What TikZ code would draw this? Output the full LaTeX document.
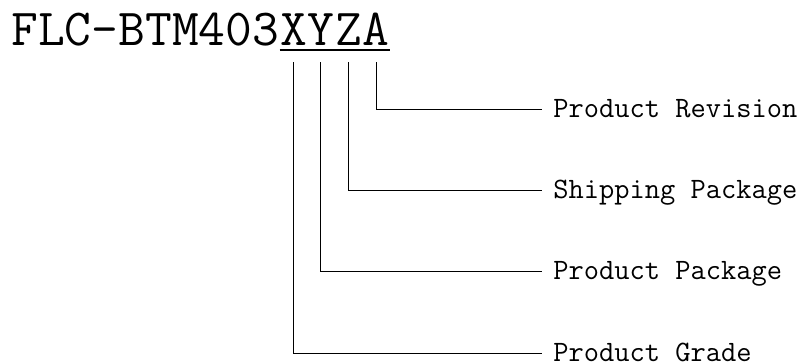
\documentclass[tikz,border=0pt]{standalone}
\usetikzlibrary{positioning}

\begin{document}
\begin{tikzpicture}[
        x=0.5pt, y=-0.5pt,
        code/.style={font=\ttfamily\fontsize{26}{31}\selectfont, inner sep=0pt, anchor=base west},
        field/.style={font=\ttfamily\fontsize{14.8}{17}\selectfont, inner sep=0pt, anchor=west, text height=8pt, text depth=0pt},
        lead/.style={line width=0.5pt}
    ]
        \useasboundingbox (0,0) rectangle (803,364);

        % Part number
        \node[code] (prefix) at (11,45) {FLC-BTM403};
        \node[code, base right=0pt of prefix] (xchar) {X};
        \node[code, base right=0pt of xchar] (ychar) {Y};
        \node[code, base right=0pt of ychar] (zchar) {Z};
        \node[code, base right=0pt of zchar] (achar) {A};

        % Fields
        \node[field] (revision) at (553,109) {Product Revision};
        \node[field] (shipping) at (553,190) {Shipping Package};
        \node[field] (package) at (553,271) {Product Package};
        \node[field] (grade) at (553,353) {Product Grade};

        % Underline
        \draw[line width=1pt] ([yshift=-2.5pt]xchar.base west) -- ([yshift=-2.5pt]achar.base east);

        % Leaders
        \draw[lead] ([yshift=-8.5pt]achar.base) |- ([xshift=-5.5pt]revision.west);
        \draw[lead] ([yshift=-8.5pt]zchar.base) |- ([xshift=-5.5pt]shipping.west);
        \draw[lead] ([yshift=-8.5pt]ychar.base) |- ([xshift=-5.5pt]package.west);
        \draw[lead] ([yshift=-8.5pt]xchar.base) |- ([xshift=-5.5pt]grade.west);
    \end{tikzpicture}
\end{document}
